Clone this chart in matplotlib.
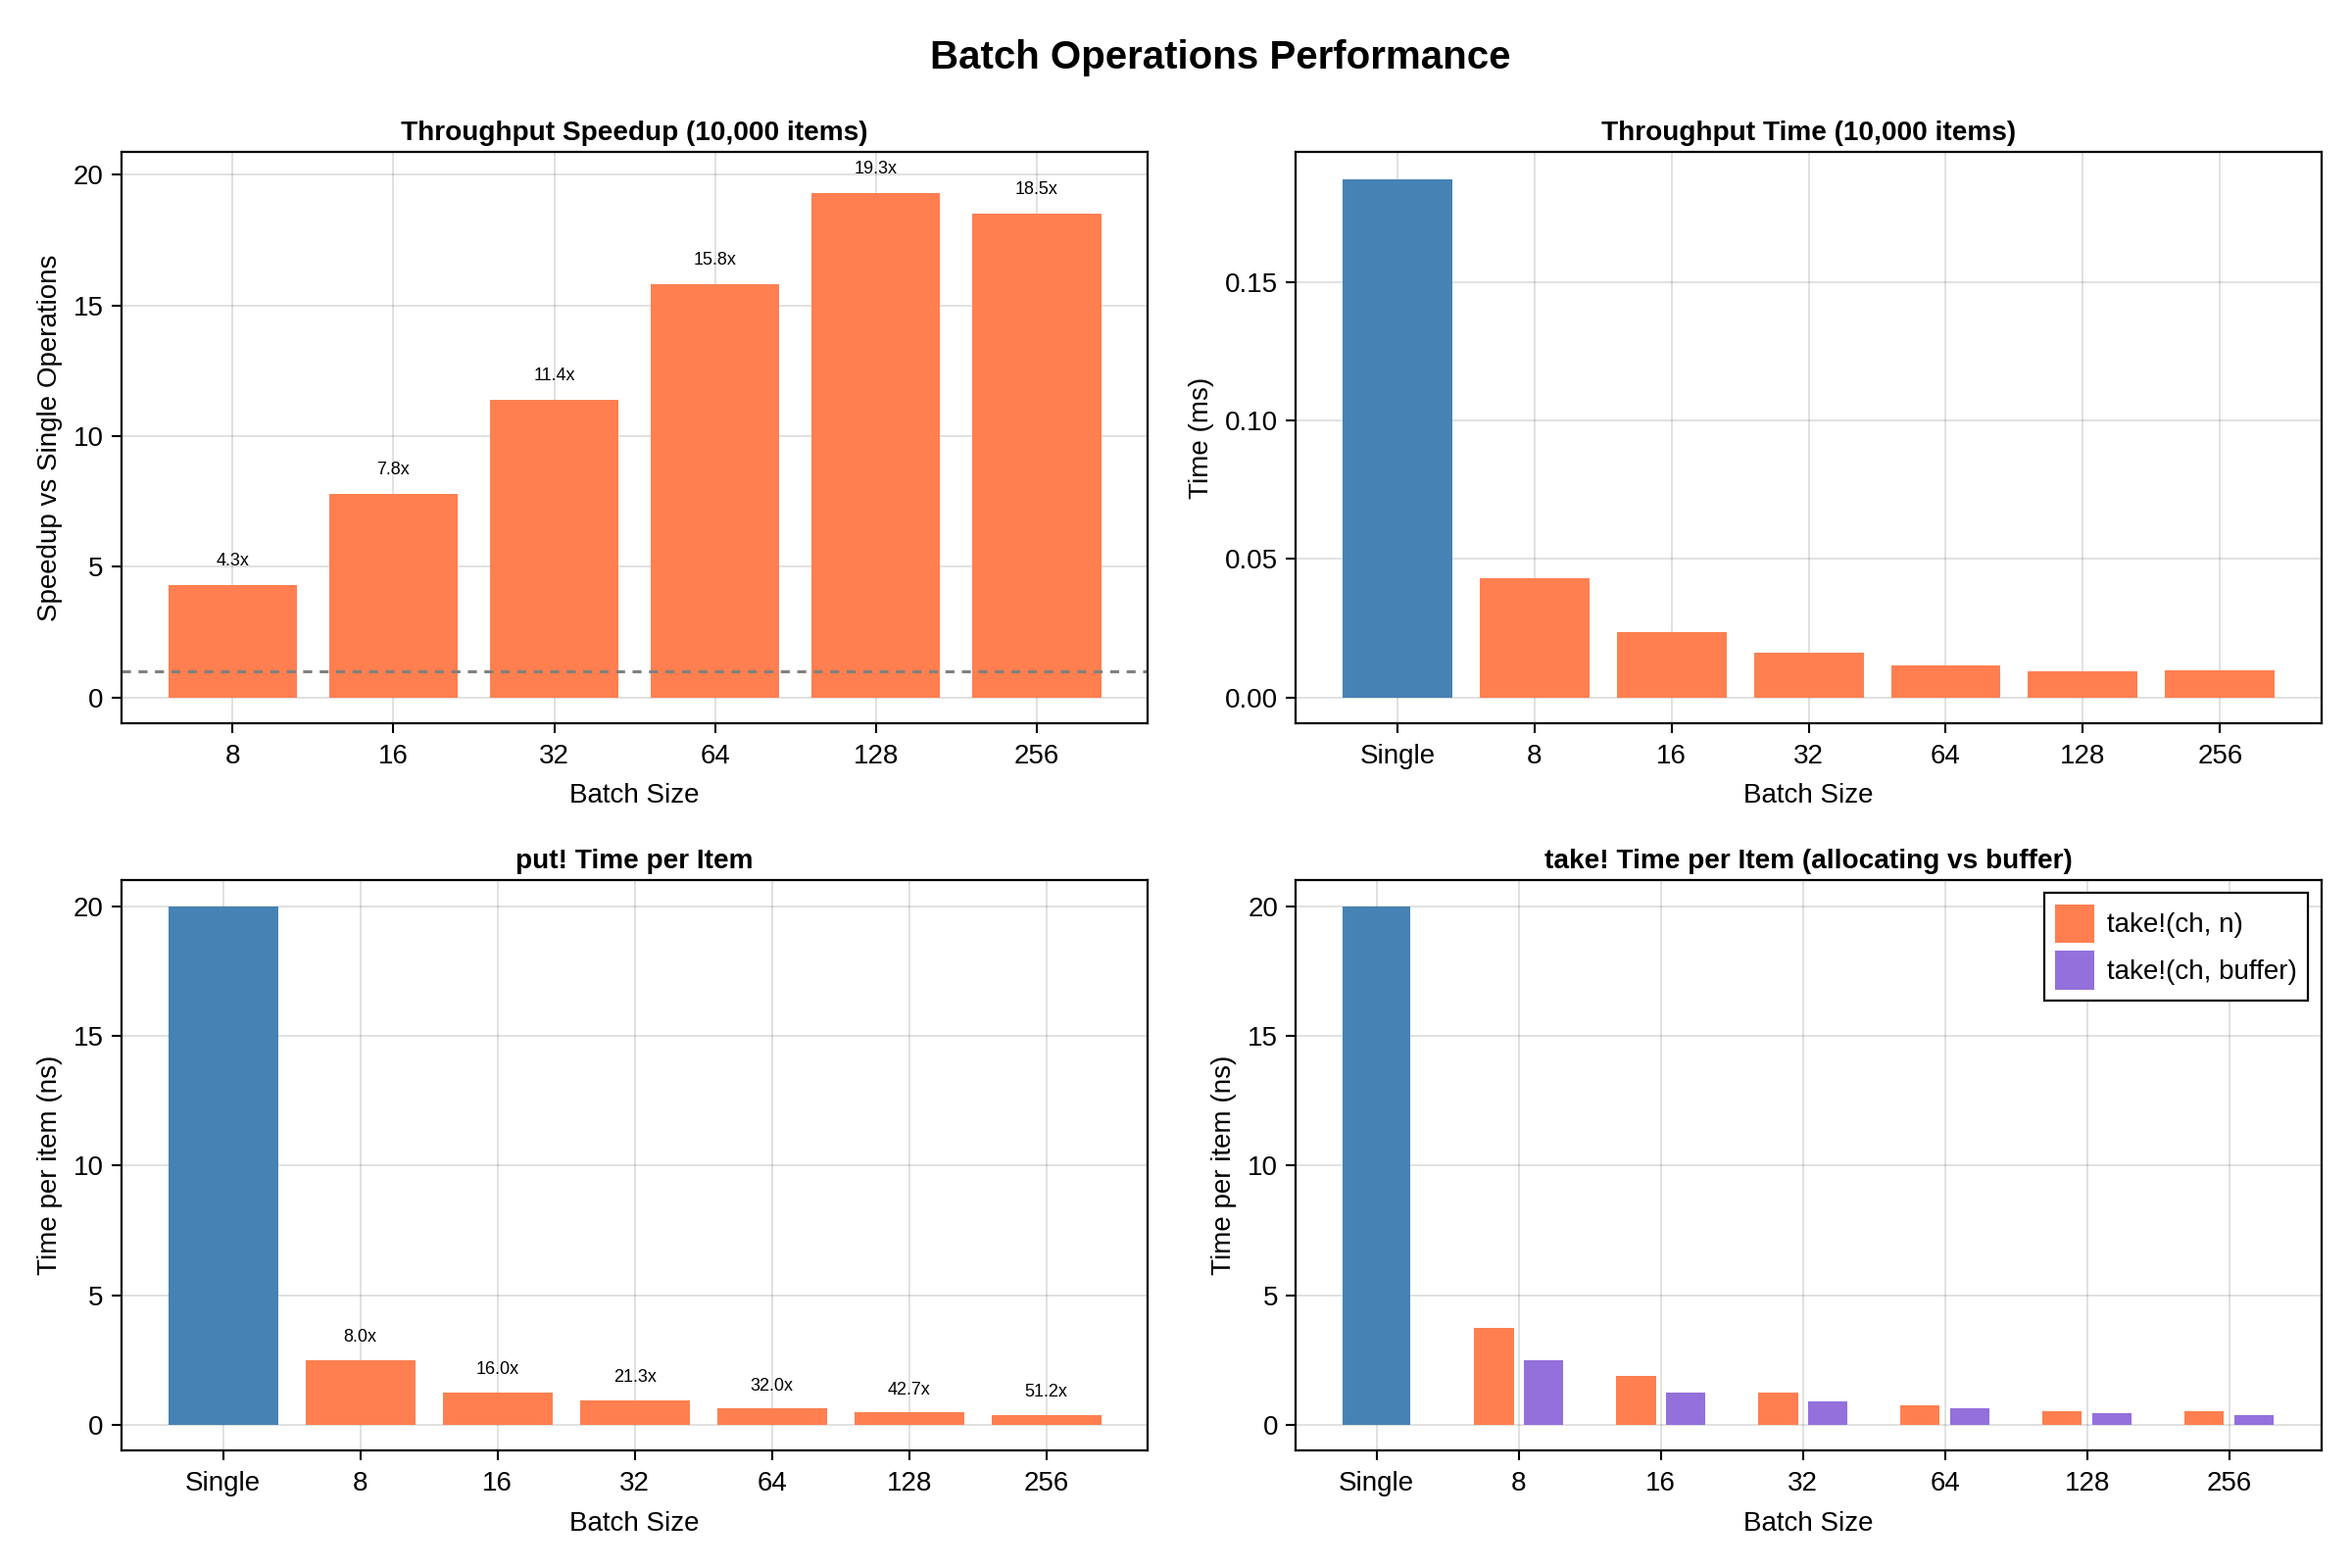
import matplotlib
matplotlib.use("Agg")
import matplotlib.pyplot as plt
import numpy as np
from matplotlib.patches import Patch

# ---------------- data ----------------
batch_sizes = ["8", "16", "32", "64", "128", "256"]
all_labels = ["Single"] + batch_sizes

speedup = [4.3, 7.8, 11.4, 15.8, 19.3, 18.5]

single_time_ms = 0.187
batch_time_ms = [0.0430, 0.0237, 0.0162, 0.0117, 0.0096, 0.0099]

put_single_ns = 20.0
put_batch_ns = [2.5, 1.25, 0.94, 0.625, 0.47, 0.39]
put_speedup = [8.0, 16.0, 21.3, 32.0, 42.7, 51.2]

take_single_ns = 20.0
take_alloc_ns = [3.75, 1.87, 1.23, 0.76, 0.53, 0.53]
take_buffer_ns = [2.5, 1.25, 0.92, 0.62, 0.45, 0.38]

ORANGE = "#FF7F50"
BLUE = "#4682B4"
PURPLE = "#9370DB"

plt.rcParams["font.family"] = ["Liberation Sans", "DejaVu Sans"]

fig = plt.figure(figsize=(12, 8), dpi=200)

L1, R1 = 0.0517, 0.488
L2, R2 = 0.551, 0.987
T1, B1 = 0.903, 0.539
T2, B2 = 0.439, 0.075

ax1 = fig.add_axes([L1, B1, R1 - L1, T1 - B1])
ax2 = fig.add_axes([L2, B1, R2 - L2, T1 - B1])
ax3 = fig.add_axes([L1, B2, R1 - L1, T2 - B2])
ax4 = fig.add_axes([L2, B2, R2 - L2, T2 - B2])

TITLE_FS = 10.1
TITLE_PAD = 4.3


def style(ax):
    ax.set_axisbelow(True)
    ax.grid(True, color="#000000", alpha=0.12, linewidth=0.7)
    for s in ax.spines.values():
        s.set_linewidth(0.8)
        s.set_color("black")
    ax.tick_params(direction="out", length=3.6, width=0.75, labelsize=10, pad=3)
    ax.tick_params(axis="x", pad=4)
    ax.set_xlabel("Batch Size", fontsize=10, labelpad=5.2)


# --- Panel 1: speedup
x = np.arange(len(batch_sizes))
ax1.bar(x, speedup, width=0.8, color=ORANGE)
for xi, v in zip(x, speedup):
    ax1.text(xi, v + 0.6, f"{v:.1f}x", ha="center", va="bottom", fontsize=6.5)
ax1.axhline(1.0, color="gray", linestyle=(0, (3, 2.5)), linewidth=1.1)
ax1.set_xticks(x)
ax1.set_xticklabels(batch_sizes)
ax1.set_xlim(-0.69, 5.69)
ax1.set_ylim(-0.97, 20.86)
ax1.set_yticks([0, 5, 10, 15, 20])
ax1.set_ylabel("Speedup vs Single Operations", fontsize=10)
ax1.set_title("Throughput Speedup (10,000 items)", fontsize=TITLE_FS, fontweight="bold", pad=TITLE_PAD)
style(ax1)

# --- Panel 2: throughput time
x2 = np.arange(len(all_labels))
ax2.bar(x2[0], single_time_ms, width=0.8, color=BLUE)
ax2.bar(x2[1:], batch_time_ms, width=0.8, color=ORANGE)
ax2.set_xticks(x2)
ax2.set_xticklabels(all_labels)
ax2.set_xlim(-0.74, 6.74)
ax2.set_ylim(-0.0092, 0.197)
ax2.set_yticks([0.0, 0.05, 0.10, 0.15])
ax2.set_yticklabels(["0.00", "0.05", "0.10", "0.15"])
ax2.set_ylabel("Time (ms)", fontsize=10)
ax2.set_title("Throughput Time (10,000 items)", fontsize=TITLE_FS, fontweight="bold", pad=TITLE_PAD)
style(ax2)

# --- Panel 3: put! time per item
ax3.bar(x2[0], put_single_ns, width=0.8, color=BLUE)
ax3.bar(x2[1:], put_batch_ns, width=0.8, color=ORANGE)
for xi, v, s in zip(x2[1:], put_batch_ns, put_speedup):
    ax3.text(xi, v + 0.55, f"{s:.1f}x", ha="center", va="bottom", fontsize=6.5)
ax3.set_xticks(x2)
ax3.set_xticklabels(all_labels)
ax3.set_xlim(-0.74, 6.74)
ax3.set_ylim(-0.99, 21.04)
ax3.set_yticks([0, 5, 10, 15, 20])
ax3.set_ylabel("Time per item (ns)", fontsize=10)
ax3.set_title("put! Time per Item", fontsize=TITLE_FS, fontweight="bold", pad=TITLE_PAD)
style(ax3)

# --- Panel 4: take! time per item
ax4.bar(x2[0], take_single_ns, width=0.48, color=BLUE)
ax4.bar(x2[1:] - 0.175, take_alloc_ns, width=0.28, color=ORANGE)
ax4.bar(x2[1:] + 0.175, take_buffer_ns, width=0.28, color=PURPLE)
ax4.set_xticks(x2)
ax4.set_xticklabels(all_labels)
ax4.set_xlim(-0.567, 6.65)
ax4.set_ylim(-0.99, 21.04)
ax4.set_yticks([0, 5, 10, 15, 20])
ax4.set_ylabel("Time per item (ns)", fontsize=10)
ax4.set_title("take! Time per Item (allocating vs buffer)", fontsize=TITLE_FS, fontweight="bold", pad=TITLE_PAD)
style(ax4)
handles = [Patch(facecolor=ORANGE, label="take!(ch, n)"),
           Patch(facecolor=PURPLE, label="take!(ch, buffer)")]
leg = ax4.legend(handles=handles, loc="upper right", fontsize=10, frameon=True,
                 fancybox=False, edgecolor="black", framealpha=1,
                 handlelength=1.45, handleheight=1.8, handletextpad=0.45,
                 borderpad=0.4, labelspacing=0.3, borderaxespad=0.5)
leg.get_frame().set_linewidth(0.8)

fig.suptitle("Batch Operations Performance", fontsize=14.5, fontweight="bold", x=0.519, y=0.975)

fig.savefig("out.png", dpi=200)
